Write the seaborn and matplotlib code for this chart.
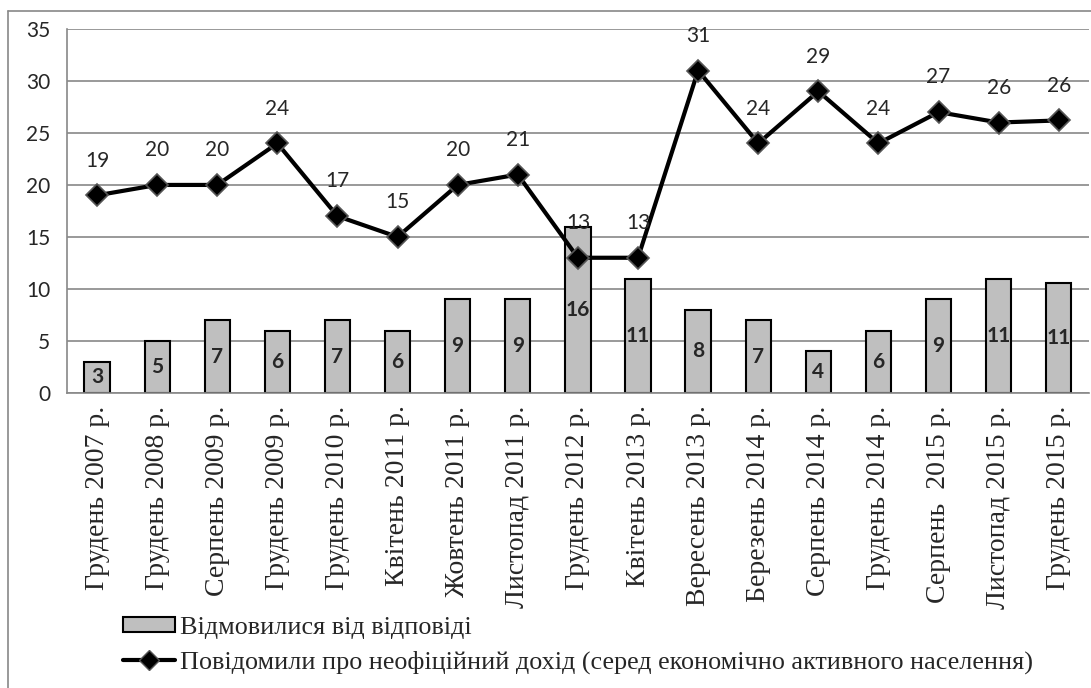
import numpy as np
import matplotlib
matplotlib.use('Agg')
import matplotlib.pyplot as plt
import seaborn as sns
from matplotlib.lines import Line2D
from matplotlib.patches import Patch

# data
periods = ['Грудень 2007 р.', 'Грудень 2008 р.', 'Серпень 2009 р.', 'Грудень 2009 р.',
           'Грудень 2010 р.', 'Квітень 2011 р.', 'Жовтень 2011 р.', 'Листопад 2011 р.',
           'Грудень 2012 р.', 'Квітень 2013 р.', 'Вересень 2013 р.', 'Березень 2014 р.',
           'Серпень 2014 р.', 'Грудень 2014 р.', 'Серпень  2015 р.', 'Листопад 2015 р.',
           'Грудень 2015 р.']
refused = [3, 5, 7, 6, 7, 6, 9, 9, 16, 11, 8, 7, 4, 6, 9, 11, 10.6]
refused_labels = ['3', '5', '7', '6', '7', '6', '9', '9', '16', '11', '8', '7', '4', '6', '9', '11', '11']
informal = [19, 20, 20, 24, 17, 15, 20, 21, 13, 13, 31, 24, 29, 24, 27, 26, 26.2]
informal_labels = ['19', '20', '20', '24', '17', '15', '20', '21', '13', '13', '31', '24', '29',
                   '24', '27', '26', '26']
bar_name = 'Відмовилися від відповіді'
line_name = 'Повідомили про неофіційний дохід (серед економічно активного населення)'

sns.set_style('white')
num_font = 'Lato'
serif_font = 'Liberation Serif'
grid_col = '#888888'

fig = plt.figure(figsize=(10.91, 6.88), dpi=100)
ax = fig.add_axes([0.0614, 0.4288, 0.9366, 0.5292])

x = np.arange(len(periods))
sns.barplot(x=x, y=refused, ax=ax, color='#bfbfbf', width=0.42,
            edgecolor='black', linewidth=1.5, saturation=1, native_scale=True, zorder=2)
sns.lineplot(x=x, y=informal, ax=ax, color='black', linewidth=3, marker='D',
             markersize=11, markeredgecolor='#555555', markeredgewidth=1.2, zorder=3)

for xi, v, lab in zip(x, refused, refused_labels):
    ax.text(xi, v / 2, lab, ha='center', va='center', fontsize=15,
            fontweight='bold', family=num_font, zorder=4)
for xi, v, lab in zip(x, informal, informal_labels):
    ax.annotate(lab, (xi, v), xytext=(0, 25), textcoords='offset points',
                ha='center', va='center', fontsize=15, family=num_font)

ax.set_ylim(0, 35)
ax.set_xlim(-0.5, len(periods) - 0.5)
ax.set_yticks(range(0, 36, 5))
ax.set_yticklabels([str(t) for t in range(0, 36, 5)], family=num_font, fontsize=15)
ax.set_xticks(x)
ax.set_xticklabels(periods, rotation=90, family=serif_font, fontsize=20)
ax.set_xticks(np.arange(-0.5, len(periods), 1), minor=True)
ax.tick_params(axis='x', which='major', length=0, pad=9)
ax.tick_params(axis='x', which='minor', length=7, color=grid_col, width=1.2, direction='out')
ax.tick_params(axis='y', length=8, color=grid_col, width=1.2, direction='out', pad=4)
ax.yaxis.grid(True, color=grid_col, linewidth=1.2, zorder=0)
ax.set_axisbelow(True)
for s in ['top', 'right']:
    ax.spines[s].set_visible(False)
for s in ['left', 'bottom']:
    ax.spines[s].set_color(grid_col)
    ax.spines[s].set_linewidth(1.2)
ax.set_xlabel('')
ax.set_ylabel('')

handles = [Patch(facecolor='#bfbfbf', edgecolor='black', linewidth=1.5),
           Line2D([0], [0], color='black', linewidth=3, marker='D', markersize=10,
                  markeredgecolor='#555555')]
fig.legend(handles, [bar_name, line_name], loc='lower left',
           bbox_to_anchor=(110 / 1091, 1 / 688), frameon=False, borderpad=0,
           prop={'family': serif_font, 'size': 18.8}, handlelength=2.0,
           handletextpad=0.2, labelspacing=0.45, handleheight=0.5)

# chart frame: only top and left edges are visible in the original
fig.add_artist(Line2D([8 / 1091, 1], [1 - 11 / 688, 1 - 11 / 688],
                      transform=fig.transFigure, color=grid_col, linewidth=1.2))
fig.add_artist(Line2D([8 / 1091, 8 / 1091], [0, 1 - 11 / 688],
                      transform=fig.transFigure, color=grid_col, linewidth=1.2))

fig.savefig('out.png', dpi=100)
